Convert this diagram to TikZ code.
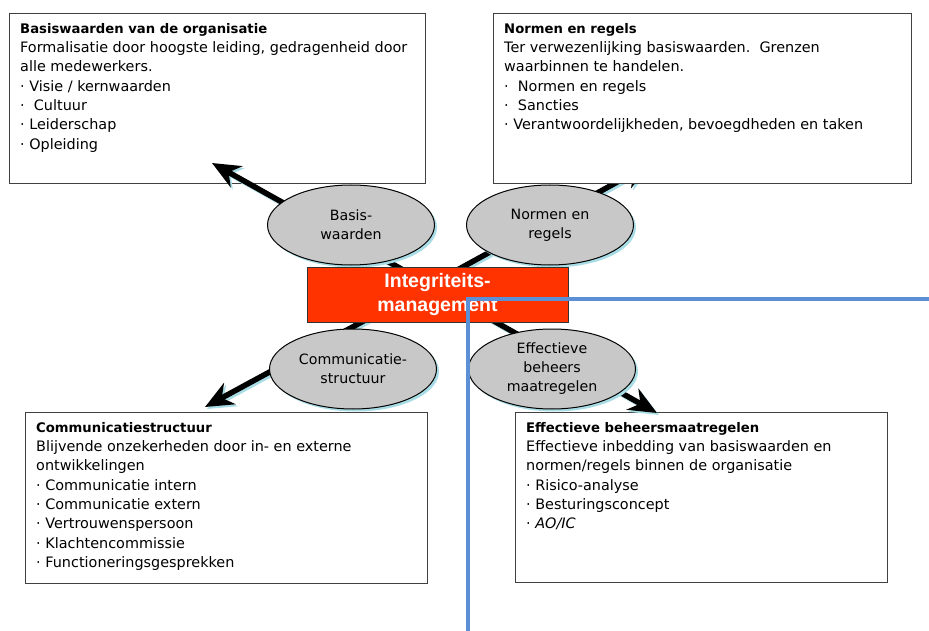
\documentclass[tikz,border=0pt]{standalone}
\usepackage{fontspec}
\setmainfont{DejaVu Sans}
\newfontfamily\kopfont{Liberation Sans}
\usetikzlibrary{shapes.geometric}
\usetikzlibrary{shadows}
\usetikzlibrary{arrows.meta}
\definecolor{oranjerood}{HTML}{FF3300}
\definecolor{lichtblauw}{HTML}{A9DDE6}
\definecolor{lijnblauw}{HTML}{5B8FD6}
\definecolor{randgrijs}{HTML}{404040}
\definecolor{ovaalgrijs}{HTML}{C8C8C8}
\newcommand\kop{\bfseries\fontsize{13.2}{19.3}\selectfont}

\begin{document}
\begin{tikzpicture}[x=1pt,y=-1pt,
    pijl/.style={line width=5.5pt,-{Stealth[length=28pt,width=24pt,inset=9pt]}},
    ovaal/.style={ellipse,draw=black,line width=1pt,fill=ovaalgrijs,minimum width=167pt,
        minimum height=80pt,inner sep=0pt,align=center,font=\fontsize{14.2}{19}\selectfont,
        drop shadow={shadow xshift=2.5pt,shadow yshift=-2.5pt,fill=lichtblauw,opacity=1}},
    kader/.style={draw=randgrijs,line width=1pt,fill=white,anchor=north west,inner sep=0pt},
    kadertekst/.style={anchor=north west,inner sep=0pt,align=left,font=\fontsize{14.4}{19.3}\selectfont}]
\useasboundingbox (0,0) rectangle (929,631);
\coordinate (midden) at (430,285);
\coordinate (pbasis) at (212,163);
\coordinate (pnormen) at (650,164);
\coordinate (pcomm) at (205,407);
\coordinate (peff) at (657,413);
\draw[pijl,lichtblauw,transform canvas={xshift=2pt,yshift=-2pt}] (midden) -- (pnormen);
\draw[pijl] (midden) -- (pnormen);
\node[kader,minimum width=416pt,minimum height=170pt] (basisvak) at (9,13) {};
\node[kadertekst] (basistekst) at ([shift={(11,10)}]basisvak.north west)
    {{\kop Basiswaarden van de organisatie}\\
     Formalisatie door hoogste leiding, gedragenheid door\\
     alle medewerkers.\\
     · Visie / kernwaarden\\
     ·~~Cultuur\\
     · Leiderschap\\
     · Opleiding};
\node[kader,minimum width=418pt,minimum height=170pt] (normenvak) at (493,13) {};
\node[kadertekst] (normentekst) at ([shift={(11,10)}]normenvak.north west)
    {{\kop Normen en regels}\\
     Ter verwezenlijking basiswaarden.~~Grenzen\\
     waarbinnen te handelen.\\
     ·~~Normen en regels\\
     ·~~Sancties\\
     · Verantwoordelijkheden, bevoegdheden en taken};
\node[kader,minimum width=402pt,minimum height=171pt] (commvak) at (25,412) {};
\node[kadertekst] (commtekst) at ([shift={(11,10)}]commvak.north west)
    {{\kop Communicatiestructuur}\\
     Blijvende onzekerheden door in- en externe\\
     ontwikkelingen\\
     · Communicatie intern\\
     · Communicatie extern\\
     · Vertrouwenspersoon\\
     · Klachtencommissie\\
     · Functioneringsgesprekken};
\node[kader,minimum width=372pt,minimum height=170pt] (effvak) at (515,412) {};
\node[kadertekst] (efftekst) at ([shift={(11,10)}]effvak.north west)
    {{\kop Effectieve beheersmaatregelen}\\
     Effectieve inbedding van basiswaarden en\\
     normen/regels binnen de organisatie\\
     · Risico-analyse\\
     · Besturingsconcept\\
     · \textit{AO/IC}};
\foreach \doel in {pbasis,pcomm,peff}{
    \draw[pijl,lichtblauw,transform canvas={xshift=2pt,yshift=-2pt}] (midden) -- (\doel);
    \draw[pijl] (midden) -- (\doel);
}
\node[ovaal] (basis) at (351,225) {Basis-\\waarden};
\node[ovaal] (normen) at (550,225) {Normen en\\regels};
\node[ovaal] (comm) at (353,369) {Communicatie-\\structuur};
\node[ovaal] (eff) at (552,369) {Effectieve\\beheers\\maatregelen};
\node[draw=black!80,line width=1pt,fill=oranjerood,minimum width=261pt,minimum height=55pt,
    text=white,align=center,font=\kopfont\bfseries\fontsize{19.5}{24}\selectfont]
    (integriteit) at (437.5,294.5) {Integriteits-\\management};
\coordinate (lijnonder) at (468,631);
\coordinate (lijnhoek) at (468,299);
\coordinate (lijnrechts) at (929,299);
\draw[lijnblauw,line width=4pt] (lijnonder) -- (lijnhoek) -- (lijnrechts);
\end{tikzpicture}
\end{document}
